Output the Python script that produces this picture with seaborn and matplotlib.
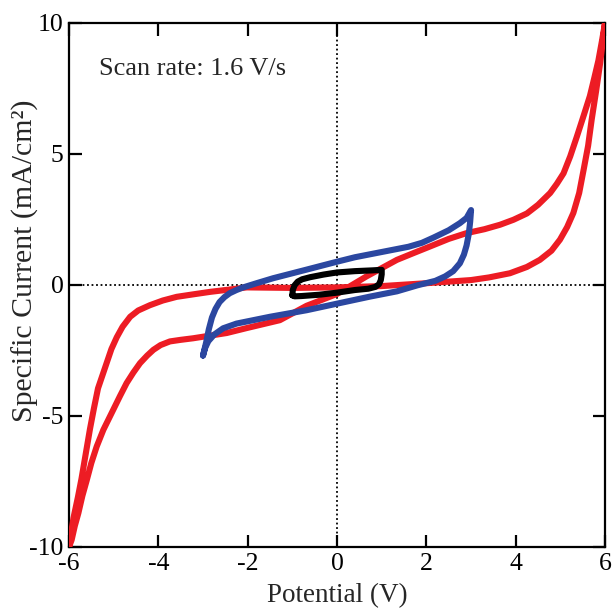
import numpy as np
import pandas as pd
import matplotlib
matplotlib.use('Agg')
import matplotlib.pyplot as plt
import seaborn as sns

# ---------- data ----------
# outer loop (red), +/-6 V : forward branch then return branch
red_fwd_x = [-6.0, -5.9, -5.8, -5.72, -5.62, -5.53, -5.44, -5.35, -5.25, -5.16,
             -5.05, -4.93, -4.8, -4.63, -4.45, -4.19, -3.9, -3.59, -3.2, -2.84,
             -2.4, -2.02, -1.0, 0.0, 1.0, 2.0, 3.0, 3.4, 3.87, 4.25,
             4.54, 4.8, 4.99, 5.15, 5.29, 5.42, 5.52, 5.62, 5.7, 5.8,
             5.89, 6.0]
red_fwd_y = [-10.0, -8.9, -8.1, -7.4, -6.4, -5.5, -4.7, -3.95, -3.45, -3.0,
             -2.45, -2.0, -1.6, -1.22, -0.98, -0.78, -0.6, -0.46, -0.36, -0.27,
             -0.18, -0.1, -0.12, -0.1, -0.05, 0.06, 0.18, 0.28, 0.44, 0.68,
             0.95, 1.3, 1.72, 2.2, 2.74, 3.5, 4.39, 5.3, 6.3, 7.4,
             8.46, 10.0]
red_rev_x = [6.0, 5.93, 5.85, 5.76, 5.66, 5.52, 5.37, 5.22, 5.07, 4.92,
             4.77, 4.5, 4.25, 3.95, 3.65, 3.3, 2.9, 2.5, 2.08, 1.7,
             1.34, 0.66, 0.0, -0.68, -1.28, -2.02, -2.47, -3.22, -3.5, -3.74,
             -3.95, -4.11, -4.25, -4.41, -4.56, -4.71, -4.86, -5.01, -5.12, -5.23,
             -5.38, -5.5, -5.6, -5.7, -5.79, -5.87, -5.94, -6.0]
red_rev_y = [10.0, 9.3, 8.55, 7.9, 7.2, 6.45, 5.66, 4.9, 4.25, 3.85,
             3.5, 3.05, 2.72, 2.48, 2.29, 2.12, 1.97, 1.75, 1.46, 1.2,
             0.95, 0.32, -0.35, -0.8, -1.35, -1.65, -1.84, -2.04, -2.1, -2.16,
             -2.3, -2.48, -2.7, -2.99, -3.35, -3.75, -4.25, -4.77, -5.15, -5.53,
             -6.17, -6.8, -7.44, -8.05, -8.71, -9.2, -9.73, -10.0]

# middle loop (blue), +/-3 V
blue_x = [-3.0, -2.93, -2.87, -2.8, -2.72, -2.63, -2.52, -2.4, -2.25, -2.1,
          -1.8, -1.43, -0.7, 0.0, 0.4, 1.0, 1.6, 1.9, 2.16, 2.5,
          2.75, 2.9, 3.0,
          2.98, 2.95, 2.9, 2.84, 2.75, 2.6, 2.42, 2.2, 1.8, 1.34,
          0.74, 0.0, -0.68, -1.5, -2.25, -2.55, -2.75, -2.88, -2.95, -3.0]
blue_y = [-2.7, -2.2, -1.7, -1.25, -0.92, -0.66, -0.47, -0.32, -0.2, -0.1,
          0.06, 0.25, 0.57, 0.88, 1.05, 1.25, 1.45, 1.6, 1.8, 2.08,
          2.35, 2.55, 2.85,
          2.4, 1.95, 1.5, 1.15, 0.82, 0.52, 0.32, 0.15, -0.02, -0.25,
          -0.45, -0.72, -0.97, -1.22, -1.48, -1.66, -1.9, -2.15, -2.4, -2.7]

# inner loop (black), +/-1 V
black_x = [-1.0, -0.99, -0.95, -0.88, -0.78, -0.6, -0.3, 0.0, 0.4, 0.8,
           1.0, 1.0, 0.98, 0.94, 0.86, 0.7, 0.4, 0.0, -0.4, -0.8, -0.95, -1.0]
black_y = [-0.4, -0.2, -0.02, 0.12, 0.21, 0.29, 0.39, 0.47, 0.52, 0.55,
           0.57, 0.4, 0.18, 0.02, -0.08, -0.15, -0.2, -0.3, -0.38, -0.43, -0.44, -0.4]

x_ticks = [-6, -4, -2, 0, 2, 4, 6]
y_ticks = [-10, -5, 0, 5, 10]

COLORS = {'red': '#ED1C24', 'blue': '#2B47A0', 'black': '#000000'}

# ---------- assemble ----------
frames = [
    pd.DataFrame({'x': red_fwd_x + red_rev_x, 'y': red_fwd_y + red_rev_y, 'curve': 'red'}),
    pd.DataFrame({'x': blue_x, 'y': blue_y, 'curve': 'blue'}),
    pd.DataFrame({'x': black_x, 'y': black_y, 'curve': 'black'}),
]
df = pd.concat(frames, ignore_index=True)

sns.set_style("ticks")
plt.rcParams['font.family'] = ['Liberation Serif', 'DejaVu Serif']
plt.rcParams['axes.linewidth'] = 1.6

fig = plt.figure(figsize=(6.12, 6.10), dpi=100)
ax = fig.add_axes([0.1127, 0.1033, 0.876, 0.8597])

ax.axhline(0, color='black', ls=(0, (1, 1.5)), lw=1.3, zorder=1)
ax.axvline(0, color='black', ls=(0, (1, 1.5)), lw=1.3, zorder=1)

sns.lineplot(data=df, x='x', y='y', hue='curve', hue_order=['red', 'blue', 'black'],
             palette=COLORS, sort=False, estimator=None, legend=False,
             lw=4.4, solid_joinstyle='round', solid_capstyle='round', ax=ax, zorder=3)

ax.set_xlim(-6, 6)
ax.set_ylim(-10, 10)
ax.set_xticks(x_ticks)
ax.set_yticks(y_ticks)
ax.set_xticklabels([str(t) for t in x_ticks])
ax.set_yticklabels([str(t) for t in y_ticks])
ax.tick_params(direction='in', length=9, width=1.6, top=True, right=True,
               labelsize=18.5, pad=4, colors='black')
for s in ax.spines.values():
    s.set_color('black')

ax.set_xlabel('Potential (V)', fontsize=19.5)
ax.xaxis.set_label_coords(0.5, -0.068)
ax.set_ylabel('Specific Current (mA/cm²)', fontsize=21.5)
ax.yaxis.set_label_coords(-0.056, 0.545)

ax.text(0.056, 0.912, 'Scan rate: 1.6 V/s', transform=ax.transAxes,
        fontsize=19, va='center', ha='left')

fig.savefig('out.png', dpi=100)
